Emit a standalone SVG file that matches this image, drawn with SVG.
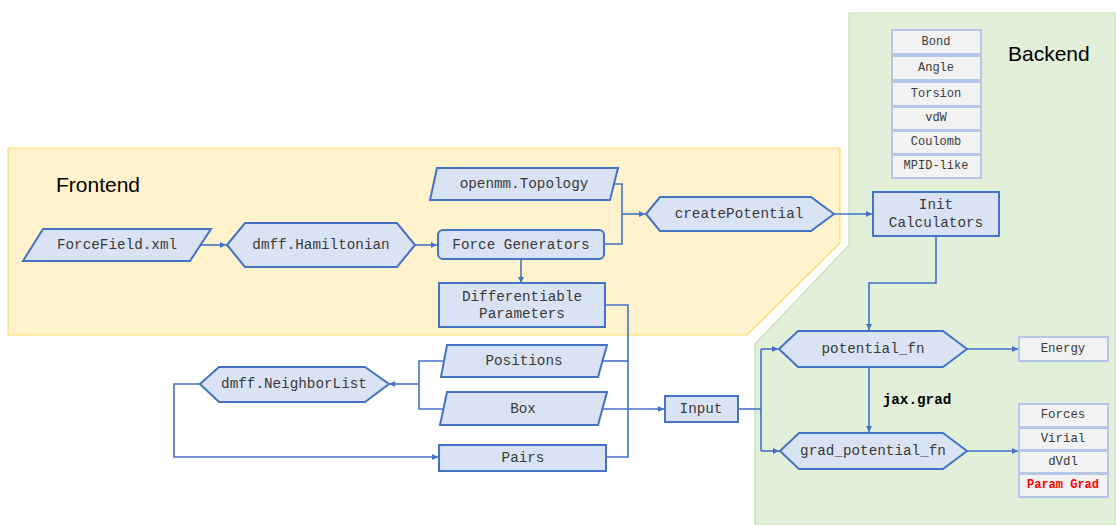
<svg xmlns="http://www.w3.org/2000/svg" width="1116" height="525" viewBox="0 0 1116 525">
<defs>
<style>
.n{fill:#dae3f3;stroke:#4472c4;stroke-width:2}
.c{fill:#f2f2f2;stroke:#b4c7e7;stroke-width:2}
.t{font-family:"Liberation Mono",monospace;font-size:14.3px;fill:#3a3a3a;text-anchor:middle;dominant-baseline:central}
.s{font-family:"Liberation Mono",monospace;font-size:12px;fill:#3a3a3a;text-anchor:middle;dominant-baseline:central}
.l{fill:none;stroke:#4472c4;stroke-width:1.6}
.h{font-family:"Liberation Sans",Arial,sans-serif;font-size:21px;fill:#000}
</style>
<marker id="a" viewBox="0 0 10 10" refX="10" refY="5" markerWidth="6" markerHeight="6" orient="auto" markerUnits="userSpaceOnUse">
<path d="M0,0L10,5L0,10z" fill="#4472c4"/>
</marker>
</defs>
<rect width="1116" height="525" fill="#fff"/>
<g id="regions">
<polygon points="8,148 840,148 840,243 747,335 8,335" fill="#fff2cc" stroke="#ffd966" stroke-width="1.2"/>
<polygon points="849,13 1116,13 1116,525 755,525 755,344 849,245" fill="#e2efd9" stroke="#c5e0b4" stroke-width="1.2"/>
<text class="h" x="56" y="192">Frontend</text>
<text class="h" x="1008" y="61">Backend</text>
</g>
<g id="connectors">
<path class="l" d="M201,245H226" marker-end="url(#a)"/>
<path class="l" d="M415,245H437" marker-end="url(#a)"/>
<path class="l" d="M614,184H622V244H604"/>
<path class="l" d="M622,214H645" marker-end="url(#a)"/>
<path class="l" d="M521,259V283" marker-end="url(#a)"/>
<path class="l" d="M834,214H872" marker-end="url(#a)"/>
<path class="l" d="M936,236V283H869V330" marker-end="url(#a)"/>
<path class="l" d="M869,367V432" marker-end="url(#a)"/>
<path class="l" d="M967,349H1018" marker-end="url(#a)"/>
<path class="l" d="M967,451H1018" marker-end="url(#a)"/>
<path class="l" d="M605,305H628V457H606"/>
<path class="l" d="M603,361H628"/>
<path class="l" d="M603,409H664" marker-end="url(#a)"/>
<path class="l" d="M738,409H761"/>
<path class="l" d="M761,349V451"/>
<path class="l" d="M761,349H778" marker-end="url(#a)"/>
<path class="l" d="M761,451H779" marker-end="url(#a)"/>
<path class="l" d="M444,361H419V409H444"/>
<path class="l" d="M419,384H389" marker-end="url(#a)"/>
<path class="l" d="M200,384H174V457H438" marker-end="url(#a)"/>
</g>
<g id="forcefield">
<polygon class="n" points="43,229 211,229 190,261 23,261"/>
<text class="t" x="117" y="245">ForceField.xml</text>
</g>
<g id="hamiltonian">
<polygon class="n" points="227,245 245,223 397,223 415,245 397,267 245,267"/>
<text class="t" x="321" y="245">dmff.Hamiltonian</text>
</g>
<g id="topology">
<polygon class="n" points="437,168 618,168 610,200 430,200"/>
<text class="t" x="524" y="184">openmm.Topology</text>
</g>
<g id="forcegen">
<rect class="n" x="438" y="230" width="166" height="29" rx="5"/>
<text class="t" x="521" y="245">Force Generators</text>
</g>
<g id="createpotential">
<polygon class="n" points="646,214 660,197 811,197 834,214 811,231 660,231"/>
<text class="t" x="739" y="214">createPotential</text>
</g>
<g id="diffparams">
<rect class="n" x="439" y="283" width="166" height="44"/>
<text class="t" x="522" y="297">Differentiable</text>
<text class="t" x="522" y="314">Parameters</text>
</g>
<g id="components">
<rect class="c" x="892" y="30" width="89" height="24"/>
<text class="s" x="936" y="42">Bond</text>
<rect class="c" x="892" y="56" width="89" height="24"/>
<text class="s" x="936" y="68">Angle</text>
<rect class="c" x="892" y="82" width="89" height="24"/>
<text class="s" x="936" y="94">Torsion</text>
<rect class="c" x="892" y="107" width="89" height="23"/>
<text class="s" x="936" y="118">vdW</text>
<rect class="c" x="892" y="131" width="89" height="23"/>
<text class="s" x="936" y="142">Coulomb</text>
<rect class="c" x="892" y="155" width="89" height="23"/>
<text class="s" x="936" y="166">MPID-like</text>
</g>
<g id="initcalc">
<rect class="n" x="873" y="192" width="126" height="44"/>
<text class="t" x="936" y="205">Init</text>
<text class="t" x="936" y="223">Calculators</text>
</g>
<g id="potentialfn">
<polygon class="n" points="779,349 798,331 943,331 967,349 943,367 798,367"/>
<text class="t" x="873" y="349">potential_fn</text>
</g>
<g id="gradpotentialfn">
<polygon class="n" points="780,451 799,433 943,433 967,451 943,469 799,469"/>
<text class="t" x="873" y="451">grad_potential_fn</text>
</g>
<g id="jaxgrad">
<text class="t" x="917" y="400" style="font-weight:bold;fill:#000">jax.grad</text>
</g>
<g id="energy">
<rect class="c" x="1019" y="337" width="89" height="24"/>
<text class="s" x="1063" y="349" style="font-size:12.4px">Energy</text>
</g>
<g id="outputs">
<rect class="c" x="1019" y="404" width="89" height="23"/>
<text class="s" x="1063" y="415" style="font-size:12.4px">Forces</text>
<rect class="c" x="1019" y="428" width="89" height="22"/>
<text class="s" x="1063" y="439" style="font-size:12.4px">Virial</text>
<rect class="c" x="1019" y="451" width="89" height="22"/>
<text class="s" x="1063" y="462" style="font-size:12.4px">dVdl</text>
<rect class="c" x="1019" y="474" width="89" height="23"/>
<text class="s" x="1063" y="485" style="font-weight:bold;fill:#ff0000">Param Grad</text>
</g>
<g id="input">
<rect class="n" x="665" y="396" width="73" height="26"/>
<text class="t" x="701" y="409">Input</text>
</g>
<g id="positions">
<polygon class="n" points="447,345 607,345 598,377 441,377"/>
<text class="t" x="524" y="361">Positions</text>
</g>
<g id="box">
<polygon class="n" points="447,392 607,392 598,425 440,425"/>
<text class="t" x="523" y="409">Box</text>
</g>
<g id="pairs">
<rect class="n" x="439" y="445" width="167" height="26"/>
<text class="t" x="523" y="458">Pairs</text>
</g>
<g id="neighborlist">
<polygon class="n" points="200,384 219,367 365,367 389,384 365,402 219,402"/>
<text class="t" x="294" y="384">dmff.NeighborList</text>
</g>
</svg>
